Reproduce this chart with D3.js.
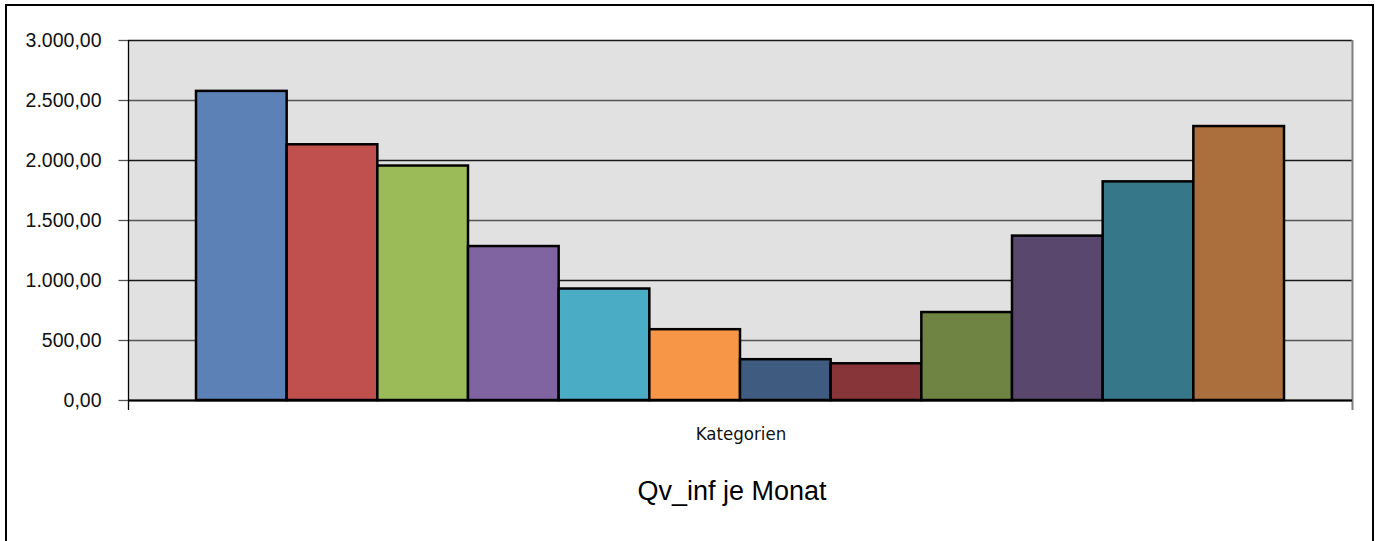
<!DOCTYPE html>
<html>
<head>
<meta charset="utf-8">
<script src="https://cdn.jsdelivr.net/npm/d3@7"></script>
<style>
	body { margin: 0; background: #fff; }
	svg { display: block; }
</style>
</head>
<body>
<svg id="chart" width="1378" height="541"></svg>
<script>
// Qv_inf per month, one bar per month
const months = ["Jan", "Feb", "Mär", "Apr", "Mai", "Jun", "Jul", "Aug", "Sep", "Okt", "Nov", "Dez"];
const values = [2576, 2131, 1954, 1283, 929, 590, 340, 306, 733, 1370, 1822, 2283];
const barColors = ["#5B81B7", "#C0504D", "#9BBB59", "#8064A2", "#4BACC6", "#F79646",
	"#3F5B7F", "#873538", "#6F8442", "#5A476E", "#36778A", "#AB6E3D"];
const yTicks = [0, 500, 1000, 1500, 2000, 2500, 3000];
const categoryLabel = "Kategorien";
const chartTitle = "Qv_inf je Monat";

const svg = d3.select("#chart");

const plot = { left: 128, right: 1352, top: 40, bottom: 400 };

const de = d3.formatLocale({ decimal: ",", thousands: ".", grouping: [3], currency: ["", " €"] });
const fmt = de.format(",.2f");

const x = d3.scaleBand()
	.domain(months)
	.range([plot.left, plot.right])
	.paddingInner(0)
	.paddingOuter(0.75);

const y = d3.scaleLinear()
	.domain([0, 3000])
	.range([plot.bottom, plot.top]);

// outer chart frame
svg.append("rect")
	.attr("x", 6).attr("y", 5)
	.attr("width", 1367).attr("height", 560)
	.attr("fill", "none")
	.attr("stroke", "#000")
	.attr("stroke-width", 2);

// plot background
svg.append("rect")
	.attr("x", plot.left).attr("y", plot.top)
	.attr("width", plot.right - plot.left).attr("height", plot.bottom - plot.top)
	.attr("fill", "#E1E1E1");

// gridlines
svg.append("g")
	.selectAll("line")
	.data(yTicks)
	.join("line")
	.attr("x1", plot.left).attr("x2", plot.right)
	.attr("y1", d => Math.round(y(d)) + 0.5).attr("y2", d => Math.round(y(d)) + 0.5)
	.attr("stroke", (d, i) => i % 2 ? "#555" : "#1a1a1a")
	.attr("stroke-width", 1.3);

// right border of plot area
svg.append("line")
	.attr("x1", plot.right + 0.5).attr("x2", plot.right + 0.5)
	.attr("y1", plot.top).attr("y2", plot.bottom + 10)
	.attr("stroke", "#808080")
	.attr("stroke-width", 2);

// y axis
const yAxis = d3.axisLeft(y)
	.tickValues(yTicks)
	.tickFormat(fmt)
	.tickSize(10)
	.tickPadding(17);

const gy = svg.append("g")
	.attr("transform", `translate(${plot.left + 0.5},0)`)
	.call(yAxis);

gy.select(".domain").remove();
gy.selectAll(".tick line")
	.attr("stroke", "#555")
	.attr("stroke-width", 1.3);
gy.selectAll(".tick text")
	.attr("fill", "#111")
	.attr("dy", "0.34em")
	.style("font-family", "'Liberation Sans', Arial, sans-serif")
	.style("font-size", "19.5px");

svg.append("line")
	.attr("x1", plot.left + 0.5).attr("x2", plot.left + 0.5)
	.attr("y1", plot.top).attr("y2", plot.bottom + 10)
	.attr("stroke", "#000")
	.attr("stroke-width", 1.3);

// bars
svg.append("g")
	.selectAll("rect")
	.data(values)
	.join("rect")
	.attr("x", (d, i) => x(months[i]))
	.attr("y", d => y(d))
	.attr("width", x.bandwidth())
	.attr("height", d => y(0) - y(d))
	.attr("fill", (d, i) => barColors[i])
	.attr("stroke", "#000")
	.attr("stroke-width", 2.5);

// x axis baseline
svg.append("line")
	.attr("x1", plot.left).attr("x2", plot.right)
	.attr("y1", plot.bottom + 0.5).attr("y2", plot.bottom + 0.5)
	.attr("stroke", "#000")
	.attr("stroke-width", 2);

// category label
svg.append("text")
	.attr("x", 741)
	.attr("y", 440)
	.attr("text-anchor", "middle")
	.attr("fill", "#111")
	.style("font-family", "'DejaVu Sans Condensed', 'DejaVu Sans', sans-serif")
	.style("font-stretch", "condensed")
	.style("font-size", "18.5px")
	.text(categoryLabel);

// title
svg.append("text")
	.attr("x", 732)
	.attr("y", 500)
	.attr("text-anchor", "middle")
	.attr("fill", "#000")
	.style("font-family", "'Liberation Sans', Arial, sans-serif")
	.style("font-size", "27px")
	.text(chartTitle);
</script>
</body>
</html>
